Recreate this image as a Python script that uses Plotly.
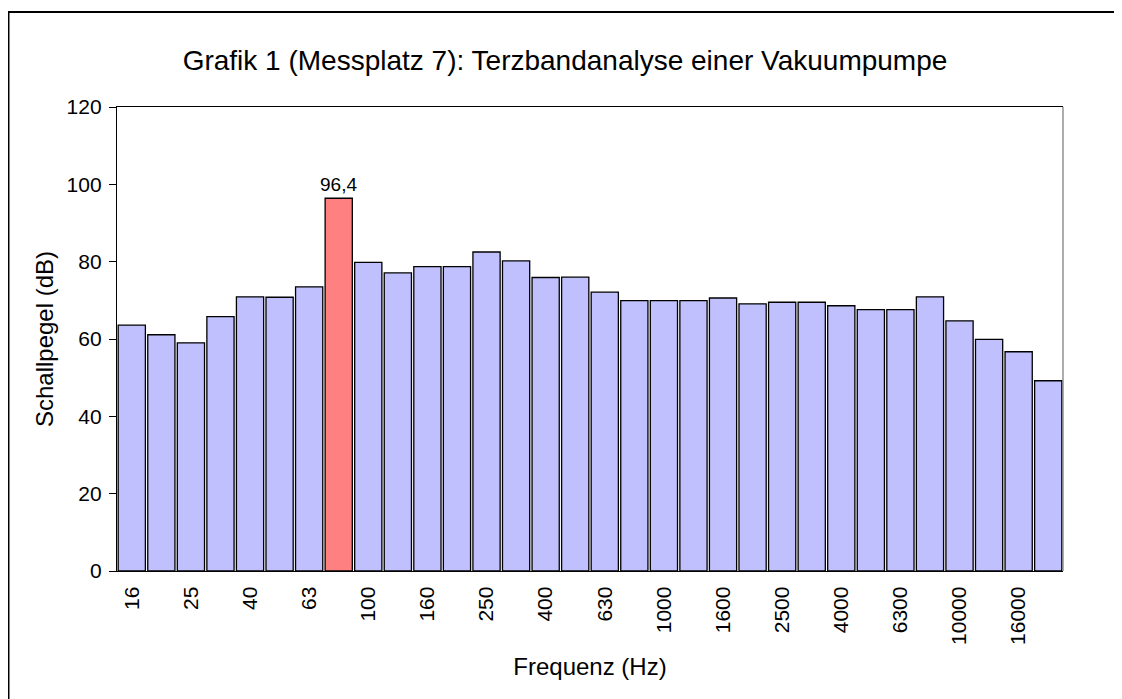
import plotly.graph_objects as go

# Terzband-Mittenfrequenzen (Hz) und Schallpegel (dB)
frequencies = ['16', '20', '25', '31,5', '40', '50', '63', '80', '100', '125',
               '160', '200', '250', '315', '400', '500', '630', '800', '1000',
               '1250', '1600', '2000', '2500', '3150', '4000', '5000', '6300',
               '8000', '10000', '12500', '16000', '20000']
levels = [63.6, 61.1, 59.0, 65.8, 70.9, 70.8, 73.5, 96.4, 79.8, 77.1,
          78.7, 78.7, 82.5, 80.2, 75.9, 76.0, 72.1, 69.9, 69.9, 69.9,
          70.6, 69.1, 69.5, 69.5, 68.6, 67.6, 67.6, 70.9, 64.7, 59.9,
          56.7, 49.2]
tick_labels = ['16', '25', '40', '63', '100', '160', '250', '400', '630',
               '1000', '1600', '2500', '4000', '6300', '10000', '16000']
y_ticks = [0, 20, 40, 60, 80, 100, 120]
peak_freq = '80'

FONT = 'Liberation Sans, Arial, sans-serif'

colors = ['#FF8080' if f == peak_freq else '#C0C0FF' for f in frequencies]
labels = [f'{v:.1f}'.replace('.', ',') if f == peak_freq else ''
          for f, v in zip(frequencies, levels)]

fig = go.Figure()
fig.add_trace(go.Bar(
    x=frequencies,
    y=levels,
    marker=dict(color=colors, line=dict(color='black', width=1.3)),
    text=labels,
    textposition='outside',
    constraintext='none',
    textfont=dict(size=19, color='black', family=FONT),
    cliponaxis=False,
    hovertemplate='%{x} Hz: %{y:.1f} dB<extra></extra>'
))

# the page body has an 8px margin, so the figure is 8px smaller than the window
fig.update_layout(
    width=1114, height=691,
    margin=dict(l=109, r=59, t=99, b=128),
    paper_bgcolor='white',
    plot_bgcolor='white',
    font=dict(family=FONT, color='black', size=21),
    showlegend=False,
    bargap=0.08,
    title=dict(text='Grafik 1 (Messplatz 7): Terzbandanalyse einer Vakuumpumpe',
               x=0.5, xanchor='center', y=0.925, yanchor='middle',
               font=dict(size=28, family=FONT, color='black')),
    xaxis=dict(
        type='category',
        tickmode='array', tickvals=tick_labels, ticktext=tick_labels,
        tickangle=-90,
        ticks='',
        ticklabelstandoff=6,
        showline=True, linecolor='black', linewidth=1.3,
        mirror=True,
        showgrid=False,
        tickfont=dict(size=21),
        title=dict(text='Frequenz (Hz)', font=dict(size=24), standoff=14),
    ),
    yaxis=dict(
        range=[0, 120],
        tickvals=y_ticks,
        ticks='outside', ticklen=7, tickcolor='black',
        ticklabelstandoff=3,
        showline=True, linecolor='black', linewidth=1.3,
        showgrid=False, zeroline=False,
        tickfont=dict(size=21),
        title=dict(text='Schallpegel (dB)', font=dict(size=24), standoff=6),
    ),
    # inner half of the crossing tick marks
    yaxis2=dict(
        overlaying='y', side='left', range=[0, 120],
        tickvals=y_ticks, ticks='inside', ticklen=7, tickcolor='black',
        showticklabels=False, showline=False, showgrid=False, zeroline=False,
    ),
    shapes=[
        # grey right edge of the plot area
        dict(type='line', xref='paper', yref='paper', x0=1, x1=1, y0=0, y1=1,
             line=dict(color='#808080', width=1.3)),
        # outer chart frame (runs off the right and bottom of the picture)
        dict(type='rect', xref='paper', yref='paper',
             x0=-0.1147, x1=1.1, y0=-0.3, y1=1.2047,
             line=dict(color='black', width=2)),
    ],
)

fig.write_html('out.html')
